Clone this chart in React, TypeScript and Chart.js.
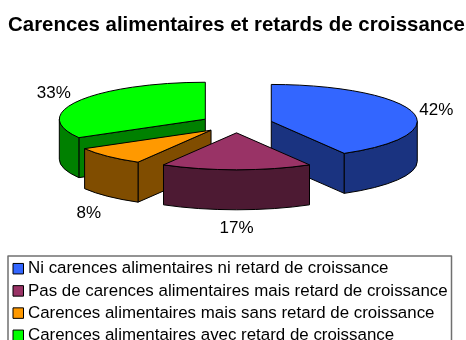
import React, { useEffect, useRef } from "react";
import { Chart, registerables } from "chart.js";

Chart.register(...registerables);

const chartTitle = "Carences alimentaires et retards de croissance";
const categories = [
  "Ni carences alimentaires ni retard de croissance",
  "Pas de carences alimentaires mais retard de croissance",
  "Carences alimentaires mais sans retard de croissance",
  "Carences alimentaires avec retard de croissance",
];
const values = [25, 10, 5, 20];
const topColors = ["#3366FF", "#993366", "#FF9900", "#00FF00"];
const sideColors = ["#1A3380", "#4D1A33", "#804D00", "#008000"];
// label offset from the slice rim, in pixels
const labelDx = [24, 0, -19, -25];
const labelDy = [-2, 19, 17, -7];

const FONT = '"Liberation Sans", Arial, sans-serif';
const TILT = 0.253;
const DEPTH = 40;
const EXPLODE = 36;
const LEGEND = { left: 8, top: 256, right: 451.5, firstRow: 268.7, rowH: 22.2, swatchX: 13, swatchS: 10.5, textX: 28, font: 16.9 };

const pie3d = {
  id: "pie3d",
  beforeDatasetsDraw(chart: any) {
    const ctx: CanvasRenderingContext2D = chart.ctx;
    const arcs = chart.getDatasetMeta(0).data as any[];
    const total = values.reduce((a, b) => a + b, 0);
    const order = arcs
      .map((arc, i) => ({ arc, i, mid: (arc.startAngle + arc.endAngle) / 2 }))
      .sort((a, b) => Math.sin(a.mid) - Math.sin(b.mid));

    ctx.save();
    ctx.lineWidth = 1;
    ctx.strokeStyle = "#000";
    ctx.lineJoin = "round";
    for (const { arc, i, mid } of order) {
      const rx = arc.outerRadius;
      const ry = rx * TILT;
      const cx = arc.x + Math.cos(mid) * EXPLODE;
      const cy = arc.y + Math.sin(mid) * EXPLODE * TILT;
      const s = arc.startAngle;
      const e = arc.endAngle;
      const px = (a: number) => cx + Math.cos(a) * rx;
      const py = (a: number) => cy + Math.sin(a) * ry;

      ctx.fillStyle = sideColors[i];
      const sideFace = (a: number) => {
        ctx.beginPath();
        ctx.moveTo(cx, cy);
        ctx.lineTo(px(a), py(a));
        ctx.lineTo(px(a), py(a) + DEPTH);
        ctx.lineTo(cx, cy + DEPTH);
        ctx.closePath();
        ctx.fill();
        ctx.stroke();
      };
      // a cut face is seen only when it turns towards the viewer
      if (Math.sin(s - Math.PI / 2) > 0) sideFace(s);
      if (Math.sin(e + Math.PI / 2) > 0) sideFace(e);

      const a0 = Math.max(s, 0);
      const a1 = Math.min(e, Math.PI);
      if (a1 > a0) {
        ctx.beginPath();
        ctx.ellipse(cx, cy, rx, ry, 0, a0, a1);
        ctx.lineTo(px(a1), py(a1) + DEPTH);
        ctx.ellipse(cx, cy + DEPTH, rx, ry, 0, a1, a0, true);
        ctx.closePath();
        ctx.fill();
        ctx.stroke();
      }

      ctx.fillStyle = topColors[i];
      ctx.beginPath();
      ctx.moveTo(cx, cy);
      ctx.ellipse(cx, cy, rx, ry, 0, s, e);
      ctx.closePath();
      ctx.fill();
      ctx.stroke();
    }

    ctx.fillStyle = "#000";
    ctx.font = `17px ${FONT}`;
    ctx.textAlign = "center";
    ctx.textBaseline = "middle";
    arcs.forEach((arc, i) => {
      const mid = (arc.startAngle + arc.endAngle) / 2;
      const rx = arc.outerRadius;
      const front = Math.sin(mid) > 0.2 ? DEPTH : 0;
      const x = arc.x + Math.cos(mid) * (EXPLODE + rx) + labelDx[i];
      const y = arc.y + Math.sin(mid) * (EXPLODE + rx) * TILT + front + labelDy[i];
      ctx.fillText(`${Math.round((values[i] / total) * 100)}%`, x, y);
    });

    // legend, cut by the bottom of the picture as in the reference
    ctx.strokeStyle = "#707070";
    ctx.lineWidth = 1.5;
    ctx.strokeRect(LEGEND.left, LEGEND.top, LEGEND.right - LEGEND.left, 100);
    ctx.lineWidth = 1;
    ctx.strokeStyle = "#000";
    ctx.textAlign = "left";
    ctx.font = `${LEGEND.font}px ${FONT}`;
    categories.forEach((label, i) => {
      const y = LEGEND.firstRow + i * LEGEND.rowH;
      ctx.fillStyle = topColors[i];
      ctx.fillRect(LEGEND.swatchX, y - LEGEND.swatchS / 2, LEGEND.swatchS, LEGEND.swatchS);
      ctx.strokeRect(LEGEND.swatchX, y - LEGEND.swatchS / 2, LEGEND.swatchS, LEGEND.swatchS);
      ctx.fillStyle = "#000";
      ctx.fillText(label, LEGEND.textX, y);
    });
    ctx.restore();
    return false;
  },
};

export default function App() {
  const ref = useRef<HTMLCanvasElement>(null);
  useEffect(() => {
    const chart = new Chart(ref.current as HTMLCanvasElement, {
      type: "pie",
      data: {
        labels: categories,
        datasets: [{ data: values, backgroundColor: topColors, borderColor: "#000", borderWidth: 1, radius: 146 }],
      },
      options: {
        animation: false,
        responsive: false,
        layout: { padding: { left: 7, right: 0, top: 0, bottom: 143 } },
        plugins: {
          legend: { display: false },
          tooltip: { enabled: false },
          title: {
            display: true,
            text: chartTitle,
            color: "#000",
            fullSize: false,
            font: { family: FONT, size: 20.4, weight: "bold" },
            padding: { top: 13, bottom: 13 },
          },
        },
      },
      plugins: [pie3d],
    } as any);
    return () => chart.destroy();
  }, []);
  return (
    <div style={{ position: "fixed", left: 0, top: 0, width: 466, height: 340, overflow: "hidden", background: "#fff" }}>
      <canvas ref={ref} width={466} height={340} style={{ display: "block" }} />
    </div>
  );
}
